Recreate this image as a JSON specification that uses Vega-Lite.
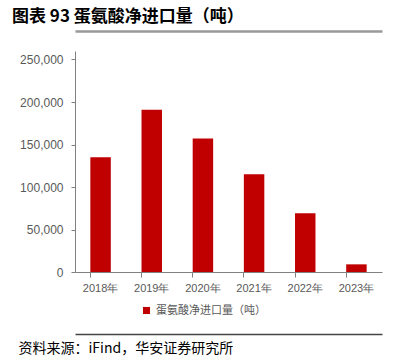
{
  "$schema": "https://vega.github.io/schema/vega-lite/v6.json",
  "width": 307,
  "height": 221,
  "autosize": {"type": "none"},
  "padding": {"left": 75, "top": 51, "right": 25, "bottom": 91},
  "background": "white",
  "config": {"view": {"stroke": null}, "font": "Liberation Sans"},
  "title": {
    "text": "图表 93 蛋氨酸净进口量（吨）",
    "font": "Noto Sans CJK SC",
    "fontSize": 17,
    "fontWeight": "bold",
    "color": "#000000",
    "anchor": "start",
    "frame": "group",
    "dx": -63,
    "offset": 5
  },
  "data": {
    "values": [
      {"year": "2018年", "value": 135000, "series": "蛋氨酸净进口量（吨）"},
      {"year": "2019年", "value": 191000, "series": "蛋氨酸净进口量（吨）"},
      {"year": "2020年", "value": 157000, "series": "蛋氨酸净进口量（吨）"},
      {"year": "2021年", "value": 115000, "series": "蛋氨酸净进口量（吨）"},
      {"year": "2022年", "value": 69000, "series": "蛋氨酸净进口量（吨）"},
      {"year": "2023年", "value": 9000, "series": "蛋氨酸净进口量（吨）"}
    ]
  },
  "resolve": {"scale": {"x": "independent"}, "axis": {"x": "independent", "y": "independent"}},
  "layer": [
    {
      "mark": {"type": "bar", "color": "#C00000"},
      "encoding": {
        "x": {
          "field": "year", "type": "nominal", "sort": null,
          "scale": {"paddingInner": 0.6, "paddingOuter": 0.3},
          "axis": {
            "title": null, "labelAngle": 0, "bandPosition": 0,
            "domainColor": "#808080", "tickColor": "#808080", "tickSize": 5,
            "labelColor": "#595959", "labelFontSize": 11, "labelPadding": 5,
            "labelFont": "Liberation Sans"
          }
        },
        "y": {
          "field": "value", "type": "quantitative",
          "scale": {"domain": [0, 250000]},
          "axis": {
            "title": null, "grid": false,
            "labelExpr": "format(datum.value, ',')",
            "values": [0, 50000, 100000, 150000, 200000, 250000],
            "domainColor": "#808080", "tickColor": "#808080", "tickSize": 4,
            "labelColor": "#595959", "labelFontSize": 12, "labelPadding": 8,
            "labelFont": "Liberation Sans"
          }
        },
        "color": {
          "field": "series", "type": "nominal",
          "scale": {"range": ["#C00000"]},
          "legend": {
            "title": null, "orient": "none", "legendX": 66, "legendY": 254,
            "symbolType": "square", "symbolSize": 50,
            "labelFont": "Noto Sans CJK SC", "labelFontSize": 11, "labelColor": "#595959"
          }
        }
      }
    },
    {
      "mark": {"type": "point", "opacity": 0},
      "encoding": {
        "x": {
          "field": "year", "type": "nominal", "sort": null,
          "axis": {
            "orient": "top", "offset": 20, "labels": false, "ticks": false, "title": null,
            "domainColor": "#999999", "domainWidth": 2.5
          }
        },
        "y": {"field": "value", "type": "quantitative", "axis": null}
      }
    },
    {
      "mark": {"type": "point", "opacity": 0},
      "encoding": {
        "x": {
          "field": "year", "type": "nominal", "sort": null,
          "axis": {
            "orient": "bottom", "offset": 62, "labels": false, "ticks": false,
            "title": "资料来源：iFind，华安证券研究所",
            "titleFont": "Noto Sans CJK SC", "titleFontSize": 14, "titleFontWeight": "normal",
            "titleColor": "#000000", "titleAnchor": "start", "titleAlign": "left",
            "titleBaseline": "middle",
            "titleX": -57, "titleY": 14,
            "domainColor": "#444444", "domainWidth": 1.5
          }
        },
        "y": {"field": "value", "type": "quantitative", "axis": null}
      }
    }
  ]
}
